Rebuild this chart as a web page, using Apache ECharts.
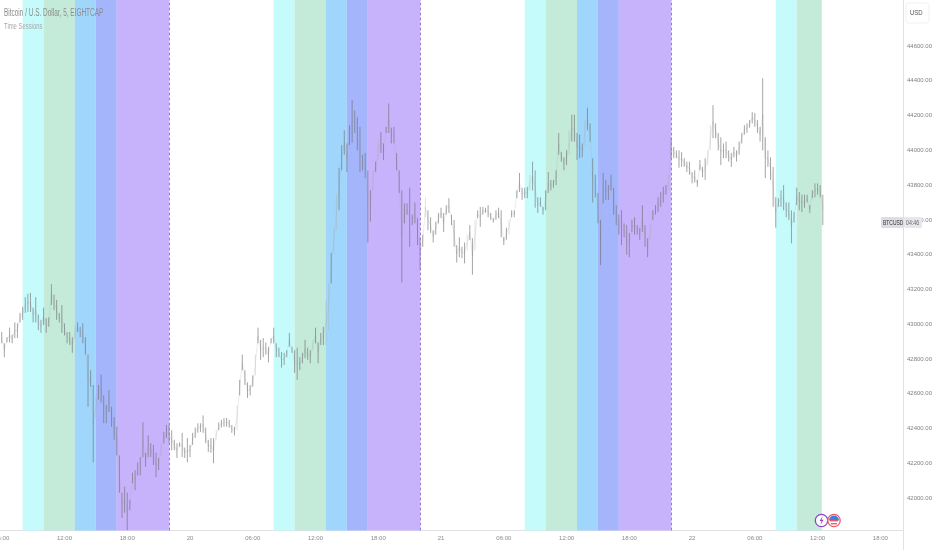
<!DOCTYPE html>
<html><head><meta charset="utf-8">
<style>html,body{margin:0;padding:0;background:#fff}#c{width:932px;height:550px}</style>
<script src="https://cdn.jsdelivr.net/npm/echarts@6/dist/echarts.min.js"></script>
</head><body><div id="c"></div>
<script>
const firstHour = 6, stepHours = 0.25;
const highs = [
42955,42890,42925,42980,42940,43010,43005,43065,43100,43155,
43175,43180,43095,43155,43055,43025,43095,43035,43040,43230,
43170,43140,43065,43110,43005,42955,42955,42925,42995,43010,
42985,43005,42925,42825,42735,42650,42590,42650,42710,42590,
42535,42620,42525,42465,42410,42245,42030,42065,42030,41990,
42145,42160,42205,42235,42435,42260,42360,42315,42305,42260,
42230,42315,42380,42420,42420,42390,42335,42315,42320,42375,
42290,42345,42305,42375,42405,42430,42430,42475,42405,42335,
42345,42345,42390,42435,42450,42460,42460,42450,42420,42410,
42535,42680,42825,42735,42665,42650,42705,42825,42980,42910,
42920,42895,42870,42920,42980,42890,42865,42840,42835,42850,
42950,42870,42850,42865,42810,42835,42910,42865,42850,42910,
42980,42895,42950,42985,43140,43235,43410,43555,43745,43900,
44030,44115,44040,44145,44290,44230,44190,44135,43975,43985,
43885,43770,43885,43935,44060,44105,44040,44135,44270,44130,
44135,43985,43885,43770,43695,43695,43785,43630,43700,43610,
43500,43515,43730,43655,43615,43540,43590,43640,43670,43640,
43685,43725,43630,43600,43455,43500,43445,43470,43515,43570,
43495,43600,43655,43675,43675,43670,43685,43640,43610,43655,
43670,43655,43500,43555,43600,43655,43655,43770,43870,43785,
43785,43790,43860,43935,43885,43730,43730,43675,43770,43875,
43830,43830,43885,44100,43990,43960,44000,44115,44205,44205,
44100,44090,44040,44175,44245,44155,43955,43860,43755,43600,
43870,43830,43800,43860,43785,43685,43630,43655,43580,43570,
43525,43600,43615,43570,43555,43685,43570,43495,43570,43655,
43685,43730,43760,43790,43800,43860,44075,44020,44000,44000,
43990,43955,43935,43935,43875,43885,43830,43945,43905,43955,
44000,44145,44260,44155,44100,44075,44040,44050,44000,43985,
44020,44000,44050,44100,44145,44155,44175,44220,44215,44175,
44135,44415,44075,44000,43960,43905,43730,43725,43770,43800,
43700,43700,43655,43645,43785,43760,43745,43745,43745,43685,
43770,43810,43810,43800,43745];
const lows = [
42890,42810,42895,42895,42890,42920,42920,43010,43025,43065,
43070,43070,43010,43010,42965,42950,42995,42950,42985,43110,
43080,43025,43010,42950,42935,42890,42880,42835,42910,42955,
42925,42890,42825,42525,42640,42205,42460,42565,42550,42430,
42430,42495,42410,42335,42245,42030,41885,41915,41815,41930,
42085,42045,42130,42130,42235,42180,42235,42235,42190,42120,
42160,42245,42315,42345,42315,42275,42275,42230,42295,42235,
42230,42205,42235,42305,42345,42375,42380,42375,42315,42265,
42260,42200,42335,42390,42405,42410,42410,42405,42375,42360,
42390,42590,42735,42650,42575,42590,42640,42705,42890,42795,
42810,42825,42780,42890,42890,42810,42810,42750,42765,42810,
42870,42835,42720,42680,42735,42775,42805,42795,42775,42850,
42890,42775,42880,42880,42880,42965,43235,43410,43540,43655,
43885,43975,43875,44030,44045,44100,44000,43875,43885,43840,
43470,43590,43770,43875,43945,43985,43945,44100,44100,44040,
44040,43885,43755,43240,43580,43630,43445,43570,43580,43455,
43310,43445,43615,43540,43525,43470,43515,43580,43610,43530,
43630,43640,43570,43445,43355,43385,43380,43350,43425,43485,
43285,43425,43610,43560,43630,43640,43615,43600,43585,43600,
43610,43500,43455,43485,43515,43615,43615,43725,43760,43715,
43725,43725,43770,43770,43670,43640,43675,43630,43655,43755,
43770,43785,43800,43975,43935,43885,43915,43975,44050,44050,
43945,43955,43960,44030,44115,44050,43700,43730,43580,43340,
43695,43715,43715,43770,43630,43570,43515,43455,43500,43400,
43385,43530,43515,43515,43485,43530,43445,43385,43485,43600,
43630,43645,43675,43700,43745,43770,43955,43955,43955,43900,
43905,43905,43875,43860,43810,43815,43790,43885,43845,43830,
43915,44000,44070,44070,44000,43915,43955,43955,43935,43905,
43960,43935,43975,44040,44090,44100,44130,44155,44135,44100,
44050,44000,43840,43905,43830,43675,43555,43675,43675,43655,
43615,43600,43465,43585,43685,43655,43645,43670,43700,43640,
43725,43730,43745,43730,43570];
const faintSlots = [28,36,61,82,90,97,119,124,125,127,128,142,144,162,178,181,194,202,217,223,248,255,270,271];
const cyanBands = [[8,10],[32,34],[56,58],[80,82]];
const greenBands = [[10,13],[34,37],[58,61],[82,84.4]];
const blueBands = [[13,15],[37,39],[61,63]];
const indigoBands = [[15,17],[39,41],[63,65]];
const purpleBands = [[17,22],[41,46],[65,70]];
const dayBreaks = [22,46,70];
const xTicks = [6,12,18,24,30,36,42,48,54,60,66,72,78,84,90];
const yTicks = [42000,42200,42400,42600,42800,43000,43200,43400,43600,43800,44000,44200,44400,44600];
const font = '"Liberation Sans",sans-serif';

const bars = highs.map((h,i)=>[firstHour+i*stepHours,h,lows[i],faintSlots.includes(i)?1:0]);
const mids = highs.map((h,i)=>[firstHour+i*stepHours,(h+lows[i])/2]);
function bandSeries(bands,color){
  return {type:'line',data:[],silent:true,z:1,
    markArea:{silent:true,itemStyle:{color:color,opacity:1},data:bands.map(b=>[{xAxis:b[0]},{xAxis:b[1]}])}};
}
const chart = echarts.init(document.getElementById('c'),null,{renderer:'canvas'});
chart.setOption({
  animation:false,
  backgroundColor:'#ffffff',
  grid:{left:0,top:0,width:903,height:530.5,containLabel:false,outerBoundsMode:'none'},
  xAxis:{type:'value',min:5.835,max:92.165,splitLine:{show:false},
    axisLine:{show:true,onZero:false,lineStyle:{color:'#dfe1e6',width:1}},
    axisTick:{show:false,customValues:xTicks},
    axisLabel:{customValues:xTicks,color:'#8a8a8a',fontSize:6,fontFamily:font,margin:5,hideOverlap:false,
      formatter:v=>{if(v%24===0)return String(19+v/24);const h=v%24;return (h<10?'0':'')+h+':00';}}},
  yAxis:{type:'value',position:'right',min:41813,max:44865,splitLine:{show:false},
    axisLine:{show:true,onZero:false,lineStyle:{color:'#dfe1e6',width:1}},
    axisTick:{show:false,customValues:yTicks},
    axisLabel:{customValues:yTicks,color:'#808080',fontSize:6,fontFamily:font,margin:4,
      formatter:v=>v.toFixed(2)}},
  series:[
    bandSeries(cyanBands,'#c6fbfc'),
    bandSeries(greenBands,'#c4ead9'),
    bandSeries(blueBands,'#a0d6fc'),
    bandSeries(indigoBands,'#a5b5fc'),
    bandSeries(purpleBands,'#c7b2fc'),
    {type:'line',data:[],silent:true,z:2,
      markLine:{silent:true,symbol:'none',label:{show:false},
        lineStyle:{color:'#9b7fd6',type:[3,2],width:1},
        data:dayBreaks.map(v=>({xAxis:v}))}},
    {type:'line',data:mids,showSymbol:false,silent:true,z:3,
      lineStyle:{color:'rgba(170,170,170,0.22)',width:1}},
    {type:'custom',data:bars,z:4,silent:true,
      encode:{x:0,y:[1,2]},
      renderItem:(p,api)=>{
        const a=api.coord([api.value(0),api.value(1)]), b=api.coord([api.value(0),api.value(2)]);
        const faint=api.value(3)===1;
        return {type:'line',shape:{x1:a[0],y1:a[1],x2:b[0],y2:b[1]},
          style:{stroke:faint?'rgba(170,170,170,0.35)':'rgba(110,110,115,0.62)',lineWidth:1}};
      }}
  ],
  graphic:[
    {type:'line',z:9,shape:{x1:903.5,y1:530,x2:903.5,y2:550},style:{stroke:'#dfe1e6',lineWidth:1}},
    {type:'text',z:10,x:4,y:8,scaleX:0.645,style:{text:'Bitcoin / U.S. Dollar, 5, EIGHTCAP',fill:'#8c8c8c',font:'10px '+font}},
    {type:'text',z:10,x:4,y:21,scaleX:0.62,style:{text:'Time Sessions',fill:'#a8a8a8',font:'9.5px '+font}},
    {type:'rect',z:10,shape:{x:906,y:3,width:23,height:20,r:3},style:{fill:'#fff',stroke:'#f0f1f4',lineWidth:1}},
    {type:'text',z:11,x:910,y:9,scaleX:0.75,style:{text:'USD',fill:'#555',font:'8px '+font}},
    {type:'rect',z:10,shape:{x:881,y:217,width:22,height:11,r:1},style:{fill:'#dcdee4'}},
    {type:'rect',z:10,shape:{x:904,y:217,width:18,height:11,r:1},style:{fill:'#e6e7ec'}},
    {type:'text',z:11,x:883,y:219,scaleX:0.66,style:{text:'BTCUSD',fill:'#333',font:'7.5px '+font}},
    {type:'text',z:11,x:906,y:219,scaleX:0.7,style:{text:'04:46',fill:'#666',font:'7.5px '+font}},
    {type:'circle',z:10,shape:{cx:821.5,cy:520.5,r:6.2},style:{fill:'#fff',stroke:'#8e44c8',lineWidth:1.3}},
    {type:'polygon',z:11,shape:{points:[[822.8,516],[819.6,521],[821.6,521],[820.4,525],[823.6,519.8],[821.6,519.8]]},style:{fill:'#8e44c8'}},
    {type:'circle',z:10,shape:{cx:834,cy:520.5,r:6.2},style:{fill:'#fff',stroke:'#ef5a68',lineWidth:1.3}},
    {type:'sector',z:11,shape:{cx:834,cy:520.5,r:5,r0:0,startAngle:Math.PI,endAngle:2*Math.PI},style:{fill:'#3d7fd9'}},
    {type:'rect',z:11,shape:{x:830,y:520,width:8,height:1.4},style:{fill:'#ef5a68'}},
    {type:'rect',z:11,shape:{x:831,y:523,width:6,height:1.4},style:{fill:'#ef5a68'}}
  ]
});
</script></body></html>
